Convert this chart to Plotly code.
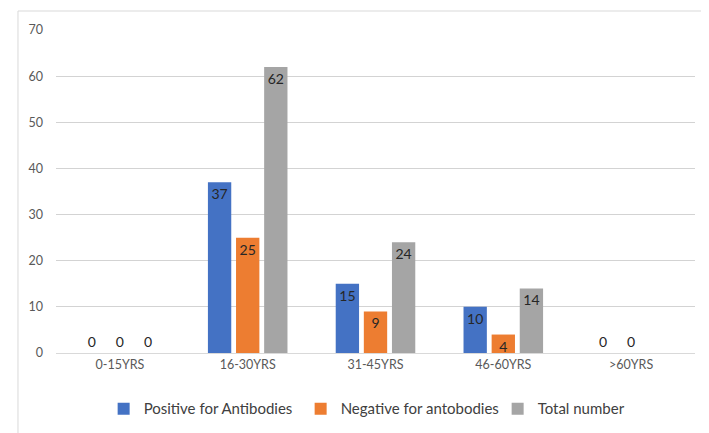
import plotly.graph_objects as go

categories = ["0-15YRS", "16-30YRS", "31-45YRS", "46-60YRS", ">60YRS"]
positive = [0, 37, 15, 10, 0]
negative = [0, 25, 9, 4, 0]
total = [0, 62, 24, 14, None]
series_names = ["Positive for Antibodies", "Negative for antobodies", "Total number"]
colors = ["#4472C4", "#ED7D31", "#A5A5A5"]
y_ticks = [0, 10, 20, 30, 40, 50, 60, 70]

FONT = "Lato"

fig = go.Figure()
for name, vals, col in zip(series_names, [positive, negative, total], colors):
    texts = ["" if v is None else str(v) for v in vals]
    pos = ["outside" if (v == 0) else "inside" for v in vals]
    fig.add_trace(go.Bar(
        x=categories, y=vals, name=name,
        marker=dict(color=col, line=dict(width=0)),
        text=texts, textposition=pos, insidetextanchor="end",
        textangle=0, constraintext="none",
        textfont=dict(family=FONT, size=14, color="#262626"),
        outsidetextfont=dict(family=FONT, size=14, color="#262626"),
        cliponaxis=False,
    ))

# the page body adds an 8px offset, so margins are shifted by 8px
fig.update_layout(
    width=709, height=433,
    margin=dict(l=48, r=22, t=22, b=88, autoexpand=False),
    paper_bgcolor="white", plot_bgcolor="white",
    barmode="group", bargap=0.34, bargroupgap=0.17,
    font=dict(family=FONT, color="#595959", size=12.5),
    showlegend=True,
    legend=dict(orientation="h", x=0.537, xanchor="center", y=-0.173, yanchor="middle",
                font=dict(family=FONT, size=15, color="#404040"),
                itemwidth=30, entrywidth=152, traceorder="normal"),
)
fig.update_xaxes(showgrid=False, showline=True, linecolor="#D9D9D9", linewidth=1,
                 ticks="", tickfont=dict(family=FONT, size=12.5, color="#595959"))
fig.update_yaxes(range=[0, 70], tickvals=y_ticks, showgrid=True, gridcolor="#D3D3D3",
                 gridwidth=1, zeroline=False, showline=False, ticks="",
                 ticklabelstandoff=12,
                 tickfont=dict(family=FONT, size=12.5, color="#595959"))

# chart area border (left and top visible)
fig.add_shape(type="line", xref="paper", yref="paper", x0=-0.0595, x1=-0.0595,
              y0=1.0588, y1=-0.30, line=dict(color="#D9D9D9", width=1))
fig.add_shape(type="line", xref="paper", yref="paper", x0=-0.0595, x1=1.03,
              y0=1.0588, y1=1.0588, line=dict(color="#D9D9D9", width=1))

fig.write_html("out.html")
